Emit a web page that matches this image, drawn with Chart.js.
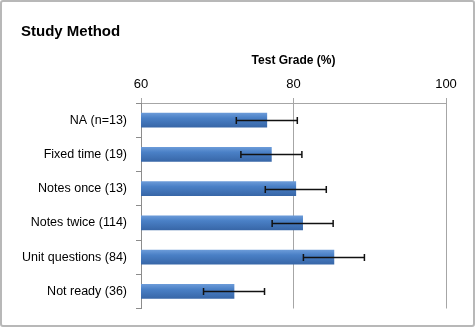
<!DOCTYPE html>
<html>
<head>
<meta charset="utf-8">
<script src="https://cdn.jsdelivr.net/npm/chart.js@4.4.1/dist/chart.umd.min.js"></script>
<style>
  html, body { margin: 0; padding: 0; background: #fff; }
  #frame {
    width: 475px; height: 327px; box-sizing: border-box;
    border: 2px solid #b8b8b8; border-radius: 3px; background: #fff;
  }
  #chart { display: block; }
</style>
</head>
<body>
<div id="frame"><canvas id="chart" width="471" height="323"></canvas></div>
<script>
(function () {
    'use strict';

    // =================== Data ===================
    const categories = ['NA (n=13)', 'Fixed time (19)', 'Notes once (13)', 'Notes twice (114)', 'Unit questions (84)', 'Not ready (36)'];
    const grades = [76.5, 77.1, 80.3, 81.2, 85.3, 72.2];
    const errors = [4, 4, 4, 4, 4, 4];
    const xTicks = [60, 80, 100];

    const FONT = '"Liberation Sans", Arial, sans-serif';

    // gradiente azul tipo Excel por barra
    function barFill(ctx) {
        const chart = ctx.chart;
        const y = chart.scales && chart.scales.y;
        if (!y || ctx.type !== 'data') return '#4a7ebb';
        const cy = y.getPixelForValue(ctx.dataIndex);
        if (!isFinite(cy)) return '#4a7ebb';
        const g = chart.ctx.createLinearGradient(0, cy - 7, 0, cy + 7);
        g.addColorStop(0, '#6a9ad8');
        g.addColorStop(0.35, '#4a80c6');
        g.addColorStop(1, '#3867a8');
        return g;
    }

    // error bars dibujadas con la escala x
    const errorBars = {
        id: 'errorBars',
        afterDatasetsDraw(chart) {
            const meta = chart.getDatasetMeta(0);
            const x = chart.scales.x;
            const c = chart.ctx;
            c.save();
            c.strokeStyle = '#111';
            c.lineWidth = 1.5;
            meta.data.forEach(function (bar, i) {
                const lo = x.getPixelForValue(grades[i] - errors[i]);
                const hi = x.getPixelForValue(grades[i] + errors[i]);
                const y = Math.round(bar.y) + 0.5;
                c.beginPath();
                c.moveTo(lo, y); c.lineTo(hi, y);
                c.moveTo(lo, y - 3.5); c.lineTo(lo, y + 3.5);
                c.moveTo(hi, y - 3.5); c.lineTo(hi, y + 3.5);
                c.stroke();
            });
            c.restore();
        }
    };

    new Chart(document.getElementById('chart'), {
        type: 'bar',
        data: {
            labels: categories,
            datasets: [{
                data: grades,
                backgroundColor: barFill,
                borderWidth: 0,
                barThickness: 14
            }]
        },
        options: {
            indexAxis: 'y',
            responsive: false,
            animation: false,
            layout: { padding: { top: 0, right: 27, bottom: 16, left: 19 } },
            plugins: {
                legend: { display: false },
                tooltip: { enabled: false },
                title: {
                    display: true,
                    text: 'Study Method',
                    align: 'start',
                    color: '#000',
                    font: { family: FONT, size: 15, weight: 'bold' },
                    padding: { top: 21, bottom: 0 }
                }
            },
            scales: {
                x: {
                    position: 'top',
                    min: 60,
                    max: 100,
                    afterBuildTicks: function (s) {
                        s.ticks = xTicks.map(v => ({ value: v }));
                    },
                    afterFit: function (s) { s.height = 62; },
                    grid: {
                        color: '#a6a6a6',
                        tickColor: '#a6a6a6',
                        tickLength: 5,
                        lineWidth: 1
                    },
                    border: { color: '#a6a6a6' },
                    ticks: {
                        color: '#000',
                        padding: 6,
                        font: { family: FONT, size: 13 }
                    },
                    title: {
                        display: true,
                        text: 'Test Grade (%)',
                        color: '#000',
                        font: { family: FONT, size: 12, weight: 'bold' },
                        padding: { top: 12, bottom: 0 }
                    }
                },
                y: {
                    afterFit: function (s) { s.width = 120; },
                    grid: {
                        drawOnChartArea: false,
                        tickColor: '#8c8c8c',
                        tickLength: 5
                    },
                    border: { color: '#8c8c8c' },
                    ticks: {
                        color: '#000',
                        padding: 9,
                        font: { family: FONT, size: 12.5 }
                    }
                }
            }
        },
        plugins: [errorBars]
    });
})();
</script>
</body>
</html>
